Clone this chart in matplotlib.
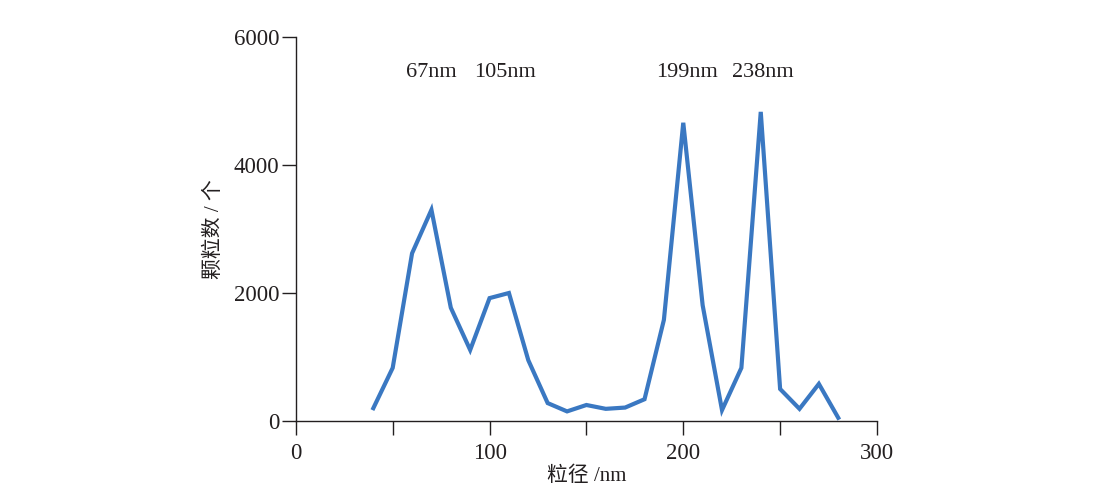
import matplotlib
matplotlib.use("Agg")
import matplotlib.pyplot as plt

diameter_nm = [40, 50, 60, 70, 80, 90, 100, 110, 120, 130, 140, 150, 160, 170,
               180, 190, 200, 210, 220, 230, 240, 250, 260, 270, 280]
particle_count = [200, 830, 2620, 3300, 1770, 1110, 1920, 2000, 950, 280, 150,
                  250, 190, 210, 340, 1580, 4660, 1810, 170, 830, 4830, 500,
                  190, 580, 50]
peak_labels = ["67nm", "105nm", "199nm", "238nm"]
peak_positions = [67, 105, 199, 238]
x_ticks = [0, 50, 100, 150, 200, 250, 300]
x_ticklabels = ["0", "", "100", "", "200", "", "300"]
y_ticks = [0, 2000, 4000, 6000]

serif = ["Liberation Serif", "DejaVu Serif"]
cjk = ["Liberation Serif", "Noto Sans CJK SC", "DejaVu Sans"]
tc = "#231f20"

fig = plt.figure(figsize=(11.08, 5.0), dpi=100)
ax = fig.add_axes([0.267, 0.158, 0.5245, 0.768])
ax.plot(diameter_nm, particle_count, color="#3a78c2", lw=3.0, solid_joinstyle="miter")
ax.set_xlim(0, 300)
ax.set_ylim(0, 6000)
ax.set_xticks(x_ticks)
ax.set_xticklabels(x_ticklabels)
ax.set_yticks(y_ticks)
for s in ["top", "right"]:
    ax.spines[s].set_visible(False)
for s in ["left", "bottom"]:
    ax.spines[s].set_color(tc)
    ax.spines[s].set_linewidth(1.0)
ax.tick_params(axis="both", direction="out", length=10, width=1.0, color=tc,
               labelcolor=tc, labelsize=16.5, pad=2)
ax.tick_params(axis="x", pad=6)
for lab in ax.get_xticklabels() + ax.get_yticklabels():
    lab.set_family(serif)

for t, p in zip(peak_labels, peak_positions):
    ax.text(p + 3, 5440, t, ha="center", va="center", fontsize=16,
            family=serif, color=tc)

ax.set_xlabel("粒径 /nm", family=cjk, fontsize=15, color=tc, labelpad=2)
ax.set_ylabel("颗粒数 / 个", family=cjk, fontsize=15, color=tc, labelpad=7)

fig.savefig("out.png", dpi=100)
